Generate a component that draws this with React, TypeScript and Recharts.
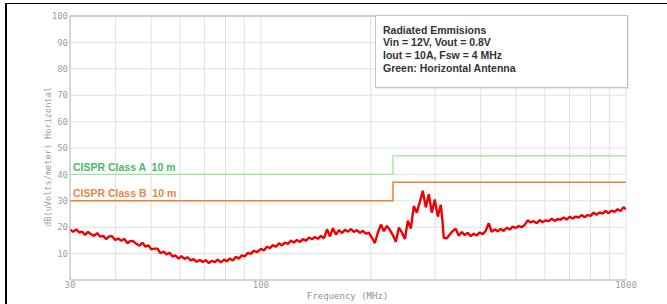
import React from 'react';
import { LineChart, Line, XAxis, YAxis, CartesianGrid, ReferenceLine } from 'recharts';

// Emission trace (frequency in MHz, level in dBuV/m)
const emFreqs = [
  30, 30.6, 31.2, 31.8, 32.4, 33, 33.6, 34.2, 34.9, 35.6,
  36.3, 37, 37.7, 38.4, 39.1, 39.9, 40.7, 41.5, 42.3, 43.1,
  43.9, 44.7, 45.6, 46.5, 47.4, 48.3, 49.2, 50.1, 51.1, 52.1,
  53.1, 54.1, 55.1, 56.2, 57.3, 58.4, 59.5, 60.6, 61.8, 63,
  64.2, 65.4, 66.7, 68, 69.3, 70.6, 72, 73.4, 74.8, 76.2,
  77.7, 79.2, 80.7, 82.2, 83.8, 85.4, 87, 88.7, 90.4, 92.1,
  93.9, 95.7, 97.5, 99.4,
  100, 101.9, 103.9, 105.9, 107.9, 110, 112.1, 114.2, 116.4, 118.6,
  120.9, 123.2, 125.5, 127.9, 130.4, 132.9, 135.4, 138, 140.6, 143.3,
  146, 148.8, 151.7, 154.6, 157.5, 160.5, 163.6, 166.7, 169.9, 173.1,
  176.4, 179.8, 183.2, 186.7, 190.3, 193.9, 197.6, 201.4, 205.2, 209.1,
  213.1, 217.2, 221.3, 225.5, 229.8, 234.2, 238.7, 243.3, 247.9, 252.6,
  257.4, 262.3, 267.3, 272.4, 277.6, 282.9, 288.3, 293.8, 299.4, 305.1,
  310.9, 314, 316.8, 322.9,
  329, 335.3, 341.7, 348.2, 354.9, 361.7, 368.6, 375.6, 382.8, 390.1,
  397.5, 405.1, 412.8, 420.7, 428.7, 436.9, 445.2, 453.7, 462.4, 471.2,
  480.2, 489.4, 498.7, 508.2, 517.9, 527.8, 537.9, 548.2, 558.6, 569.3,
  580.2, 591.3, 602.6, 614.1, 625.8, 637.7, 649.9, 662.3, 674.9, 687.8,
  700.9, 714.3, 727.9, 741.8, 756, 770.4, 785.1, 800.1, 815.4, 830.9,
  846.8, 862.9, 879.4, 896.2, 913.3, 930.7, 948.5, 966.6, 985, 1000,
];

const emValues = [
  19.2, 18.2, 19.2, 18.0, 18.3, 17.1, 18.2, 17.4, 16.7, 17.8,
  16.4, 16.7, 15.5, 16.5, 16.6, 15.2, 15.7, 14.9, 15.6, 13.9,
  14.8, 14.7, 13.7, 13.0, 14.1, 12.6, 13.1, 11.6, 11.9, 11.9,
  10.1, 10.8, 9.7, 10.3, 8.9, 9.3, 8.1, 9.0, 8.0, 8.6,
  7.4, 7.9, 6.9, 7.6, 6.8, 7.5, 6.4, 7.3, 6.8, 7.7,
  6.7, 7.7, 7.1, 8.1, 7.4, 8.8, 8.1, 9.3, 9.0, 10.3,
  9.9, 11.1, 10.5, 11.5,
  11.8, 11.2, 12.6, 12.1, 13.2, 12.6, 13.9, 13.1, 14.2, 13.7,
  14.9, 14.2, 15.2, 14.4, 15.5, 14.9, 16.1, 15.4, 16.3, 15.6,
  16.7, 15.8, 19.2, 16.5, 19.6, 17.2, 18.9, 17.8, 19.0, 18.3,
  19.3, 18.2, 18.9, 17.9, 18.6, 17.6, 17.9, 16.0, 14.0, 18.0,
  21.0, 18.5, 20.5, 19.0, 17.0, 14.5, 19.8, 18.0, 15.5, 22.5,
  19.5, 28.0, 25.5, 29.5, 33.8, 27.5, 32.5, 25.5, 30.5, 24.0,
  28.5, 23.0, 16.0, 15.8,
  17.2, 18.6, 19.4, 16.8, 18.2, 17.0, 17.9, 16.6, 17.5, 16.9,
  18.0, 17.4, 18.6, 21.5, 18.2, 19.2, 18.5, 19.3, 18.6, 19.8,
  19.1, 20.2, 19.7, 20.4, 20.0, 20.9, 22.6, 21.8, 22.3, 21.5,
  22.7, 21.9, 22.6, 22.3, 23.2, 22.4, 23.1, 22.8, 23.7, 22.9,
  23.9, 23.3, 24.0, 23.6, 24.6, 23.8, 24.6, 24.3, 25.5, 24.7,
  25.6, 25.1, 26.2, 25.3, 26.3, 25.8, 26.8, 26.1, 27.6, 26.8,
];

// CISPR limit lines
const classAFreqs = [30, 230, 230, 1000];
const classAValues = [40, 40, 47, 47];
const classBFreqs = [30, 230, 230, 1000];
const classBValues = [30, 30, 37, 37];

// Axis ticks
const xGridTicks = [30, 40, 50, 60, 70, 80, 90, 100, 200, 300, 400, 500, 600, 700, 800, 900, 1000];
const xLabelTicks = [30, 100, 1000];
const yTicks = [0, 10, 20, 30, 40, 50, 60, 70, 80, 90, 100];

const legendLines = [
  'Radiated Emmisions',
  'Vin = 12V, Vout = 0.8V',
  'Iout = 10A, Fsw = 4 MHz',
  'Green: Horizontal Antenna',
];

const emData = emFreqs.map((f, i) => ({ f, v: emValues[i] }));
const classAData = classAFreqs.map((f, i) => ({ f, v: classAValues[i] }));
const classBData = classBFreqs.map((f, i) => ({ f, v: classBValues[i] }));

const mono = '"DejaVu Sans Mono", monospace';
const sans = '"Liberation Sans", Arial, sans-serif';

export default function App() {
  return (
    <div style={{ position: 'absolute', left: 0, top: 0, width: 667, height: 304, background: '#fff', overflow: 'hidden' }}>
      <LineChart width={667} height={304} margin={{ top: 16, right: 41, bottom: 0, left: 0 }}>
        <CartesianGrid stroke="#e0e0e0" strokeWidth={1} />
        <XAxis
          type="number"
          dataKey="f"
          scale="log"
          domain={[30, 1000]}
          allowDataOverflow
          ticks={xGridTicks}
          interval={0}
          tickFormatter={(v: number) => (xLabelTicks.includes(v) ? String(v) : '')}
          tickLine={false}
          tickSize={0}
          tickMargin={2}
          height={24}
          axisLine={{ stroke: '#c0c0c0' }}
          tick={{ fontSize: 9, fill: '#a0a0a0', fontFamily: mono }}
        />
        <YAxis
          type="number"
          domain={[0, 100]}
          ticks={yTicks}
          interval={0}
          tickFormatter={(v: number) => (v === 0 ? '' : String(v))}
          tickLine={false}
          tickSize={0}
          tickMargin={2}
          width={70}
          axisLine={{ stroke: '#c0c0c0' }}
          tick={{ fontSize: 9, fill: '#a0a0a0', fontFamily: mono }}
        />
        <ReferenceLine y={100} stroke="#cccccc" strokeWidth={2} />
        <Line data={classAData} dataKey="v" type="linear" stroke="#9ee59e" strokeWidth={1.3} dot={false} isAnimationActive={false} />
        <Line data={classBData} dataKey="v" type="linear" stroke="#ec8236" strokeWidth={1.5} dot={false} isAnimationActive={false} />
        <Line data={emData} dataKey="v" type="linear" stroke="#f20000" strokeWidth={2.4} strokeLinejoin="bevel" dot={false} isAnimationActive={false} />
      </LineChart>

      {/* frame */}
      <div style={{ position: 'absolute', left: 5, top: 3, width: 662, height: 1, background: '#000' }} />
      <div style={{ position: 'absolute', left: 5, top: 3, width: 2, height: 301, background: '#000' }} />

      {/* legend box */}
      <div
        style={{
          position: 'absolute', left: 375, top: 15, width: 251, height: 71,
          border: '1px solid #c4c4c4', background: '#fff', boxShadow: '1px 1px 0px rgba(0,0,0,0.08)',
        }}
      />
      <div style={{ position: 'absolute', left: 383, top: 23.5, fontFamily: sans, fontWeight: 'bold', fontSize: 10.5, lineHeight: '12.7px', color: '#333', whiteSpace: 'pre' }}>
        {legendLines.map((t) => (
          <div key={t}>{t}</div>
        ))}
      </div>

      {/* limit labels */}
      <div style={{ position: 'absolute', left: 73, top: 160.5, fontFamily: sans, fontWeight: 'bold', fontSize: 10.5, lineHeight: '13px', color: '#4cb865', whiteSpace: 'pre' }}>
        {'CISPR Class A  10 m'}
      </div>
      <div style={{ position: 'absolute', left: 73, top: 186.5, fontFamily: sans, fontWeight: 'bold', fontSize: 10.5, lineHeight: '13px', color: '#ea8444', whiteSpace: 'pre' }}>
        {'CISPR Class B  10 m'}
      </div>

      {/* axis titles */}
      <div style={{ position: 'absolute', left: 307, top: 290, fontFamily: mono, fontSize: 9, lineHeight: '12px', color: '#909090', whiteSpace: 'pre' }}>
        Frequency (MHz)
      </div>
      <div
        style={{
          position: 'absolute', left: 48, top: 157, fontFamily: mono, fontSize: 8.6, lineHeight: '10px', color: '#a0a0a0',
          whiteSpace: 'pre', transform: 'translate(-50%, -50%) rotate(-90deg)',
        }}
      >
        dB(uVolts/meter) Horizontal
      </div>
    </div>
  );
}
